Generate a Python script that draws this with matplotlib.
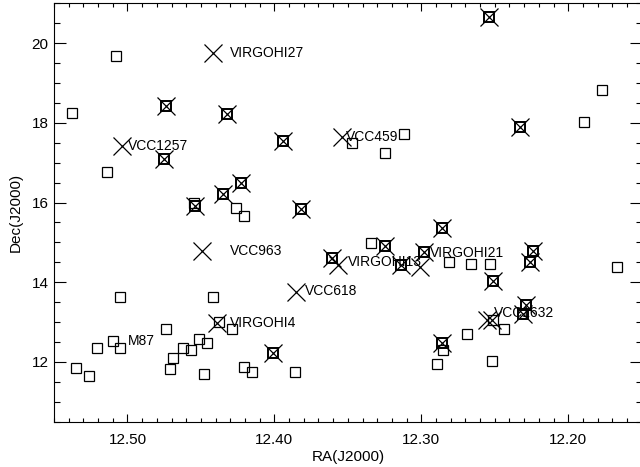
import numpy as np
import matplotlib
matplotlib.use("Agg")
import matplotlib.pyplot as plt
from matplotlib.ticker import MultipleLocator, FormatStrFormatter

plt.rcParams['font.family'] = ['Liberation Sans', 'DejaVu Sans']

# galaxies only (open squares)
sq_ra = [12.538, 12.508, 12.514, 12.347, 12.325, 12.312, 12.189, 12.177,
         12.426, 12.421, 12.455, 12.334, 12.281, 12.266, 12.253, 12.167,
         12.505, 12.442, 12.429, 12.474, 12.510, 12.505, 12.521, 12.462,
         12.457, 12.451, 12.446, 12.469, 12.535, 12.526, 12.471, 12.448,
         12.421, 12.415, 12.386, 12.244, 12.269, 12.285, 12.289, 12.252,
         12.438, 12.251]
sq_dec = [18.25, 19.68, 16.77, 17.50, 17.24, 17.72, 18.02, 18.83,
          15.86, 15.65, 16.00, 14.98, 14.52, 14.45, 14.45, 14.39,
          13.62, 13.62, 12.83, 12.83, 12.53, 12.34, 12.34, 12.34,
          12.30, 12.58, 12.47, 12.11, 11.84, 11.65, 11.81, 11.69,
          11.87, 11.74, 11.75, 12.83, 12.70, 12.30, 11.96, 12.03,
          13.00, 13.06]

# galaxies with HI detection (square + cross)
both_ra = [12.254, 12.474, 12.432, 12.394, 12.475, 12.423, 12.435, 12.454,
           12.382, 12.233, 12.361, 12.325, 12.314, 12.298, 12.286, 12.224,
           12.226, 12.251, 12.229, 12.231, 12.286, 12.401]
both_dec = [20.66, 18.42, 18.21, 17.54, 17.09, 16.50, 16.21, 15.92,
            15.83, 17.90, 14.60, 14.90, 14.42, 14.75, 15.35, 14.79,
            14.50, 14.02, 13.43, 13.20, 12.47, 12.22]

# HI sources (crosses)
x_ra = [12.442, 12.504, 12.354, 12.449, 12.385, 12.357, 12.301, 12.255,
        12.252, 12.439]
x_dec = [19.75, 17.42, 17.65, 14.78, 13.76, 14.42, 14.39, 13.04,
         13.04, 12.97]

# labels
lab_txt = ['VIRGOHI27', 'VCC1257', 'VCC459', 'VCC963', 'VIRGOHI13',
           'VCC618', 'VIRGOHI21', 'VIRGOHI4', 'M87', 'VCC1632']
lab_ra = [12.430, 12.500, 12.351, 12.430, 12.350, 12.379, 12.294, 12.430,
          12.4996, 12.2504]
lab_dec = [19.76, 17.42, 17.64, 14.78, 14.51, 13.78, 14.73, 12.98, 12.53,
           13.23]

fig = plt.figure(figsize=(6.4, 4.67), dpi=100)
ax = fig.add_axes([54 / 640, 1 - 421.7 / 467, (641.7 - 54) / 640, 418.4 / 467])

ax.plot(sq_ra, sq_dec, 's', ms=6.8, mfc='none', mec='black', mew=0.9)
ax.plot(both_ra, both_dec, 's', ms=6.8, mfc='none', mec='black', mew=1.4)
ax.plot(both_ra, both_dec, 'x', ms=12.5, color='black', mew=0.9)
ax.plot(x_ra, x_dec, 'x', ms=12.5, color='black', mew=0.9)

for t, r, d in zip(lab_txt, lab_ra, lab_dec):
    ax.text(r, d, t, fontsize=10, ha='left', va='center')

ax.set_xlim(12.55, 12.15)
ax.set_ylim(10.5, 21)
ax.xaxis.set_major_locator(MultipleLocator(0.1))
ax.xaxis.set_minor_locator(MultipleLocator(0.01))
ax.xaxis.set_major_formatter(FormatStrFormatter('%.2f'))
ax.yaxis.set_major_locator(MultipleLocator(2))
ax.yaxis.set_minor_locator(MultipleLocator(0.5))

ax.tick_params(axis='both', which='both', direction='in', top=True, right=True,
               width=0.8, labelsize=11)
ax.tick_params(axis='x', which='major', length=6, pad=8)
ax.tick_params(axis='x', which='minor', length=3)
ax.tick_params(axis='y', which='major', length=8.6, pad=4)
ax.tick_params(axis='y', which='minor', length=4)
for s in ax.spines.values():
    s.set_linewidth(0.8)

ax.set_xlabel('RA(J2000)', fontsize=11, labelpad=2)
ax.set_ylabel('Dec(J2000)', fontsize=11, labelpad=6)

fig.savefig('out.png', dpi=100)
